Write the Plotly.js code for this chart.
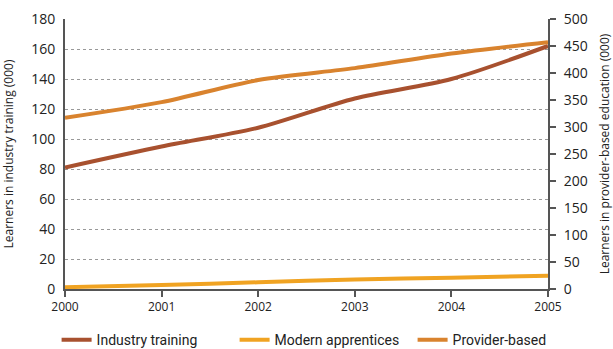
<!DOCTYPE html>
<html>
<head>
<meta charset="utf-8">
<script src="https://cdn.plot.ly/plotly-3.0.1.min.js"></script>
<style>html,body{margin:0;padding:0;background:#fff;}#chart{width:613px;height:349px;}</style>
</head>
<body>
<div id="chart"></div>
<script>
const years = [2000, 2001, 2002, 2003, 2004, 2005];
const industryTraining = [81, 95, 107.5, 127, 140, 162];
const modernApprentices = [1.2, 2.6, 4.5, 6.3, 7.5, 8.8];
const providerBased = [317, 346, 387, 409, 436, 457];
const leftTicks = [0, 20, 40, 60, 80, 100, 120, 140, 160, 180];
const rightTicks = [0, 50, 100, 150, 200, 250, 300, 350, 400, 450, 500];

const FONT = "Open Sans, Roboto, sans-serif";
const traces = [
  {x: years, y: industryTraining, name: "Industry training", mode: "lines",
   line: {color: "#A8512F", width: 4, shape: "spline", smoothing: 0.8}, yaxis: "y"},
  {x: years, y: modernApprentices, name: "Modern apprentices", mode: "lines",
   line: {color: "#F0A322", width: 4, shape: "spline", smoothing: 0.8}, yaxis: "y"},
  {x: years, y: providerBased, name: "Provider-based", mode: "lines",
   line: {color: "#D9832E", width: 4, shape: "spline", smoothing: 0.8}, yaxis: "y2"}
];
const layout = {
  width: 613, height: 349,
  margin: {l: 65, r: 65, t: 19, b: 60, autoexpand: false},
  paper_bgcolor: "#fff", plot_bgcolor: "#fff",
  font: {family: FONT, color: "#222"},
  showlegend: true,
  legend: {orientation: "h", x: -0.0174, xanchor: "left", y: -0.13, yanchor: "top",
           font: {family: "Roboto, sans-serif", size: 14, color: "#222"},
           entrywidth: 133, entrywidthmode: "pixels", traceorder: "normal"},
  xaxis: {range: [2000, 2005], tickvals: years, ticktext: years.map(String),
          showgrid: false, zeroline: false, showline: true, linecolor: "#555", linewidth: 2,
          ticks: "outside", ticklen: 6, tickwidth: 2, tickcolor: "#555",
          tickfont: {size: 12, color: "#222"}, fixedrange: true},
  yaxis: {range: [0, 180], tickvals: leftTicks, showgrid: true, gridcolor: "#999",
          griddash: "dot", gridwidth: 1, zeroline: false, showline: true, linecolor: "#555",
          linewidth: 2, ticks: "", ticklabelstandoff: 5, tickfont: {size: 14, color: "#222"},
          title: {text: "Learners in industry training (000)", font: {size: 12, color: "#222"}, standoff: 15}},
  yaxis2: {range: [0, 500], tickvals: rightTicks, overlaying: "y", side: "right",
           showgrid: false, zeroline: false, showline: true, linecolor: "#555", linewidth: 2,
           ticks: "outside", ticklen: 6, tickwidth: 2, tickcolor: "#555", ticklabelstandoff: 5,
           tickfont: {size: 14, color: "#222"},
           title: {text: "Learners in provider-based education (000)", font: {size: 12, color: "#222"}, standoff: 14}}
};
Plotly.newPlot("chart", traces, layout, {displayModeBar: false, staticPlot: true});
</script>
</body>
</html>
